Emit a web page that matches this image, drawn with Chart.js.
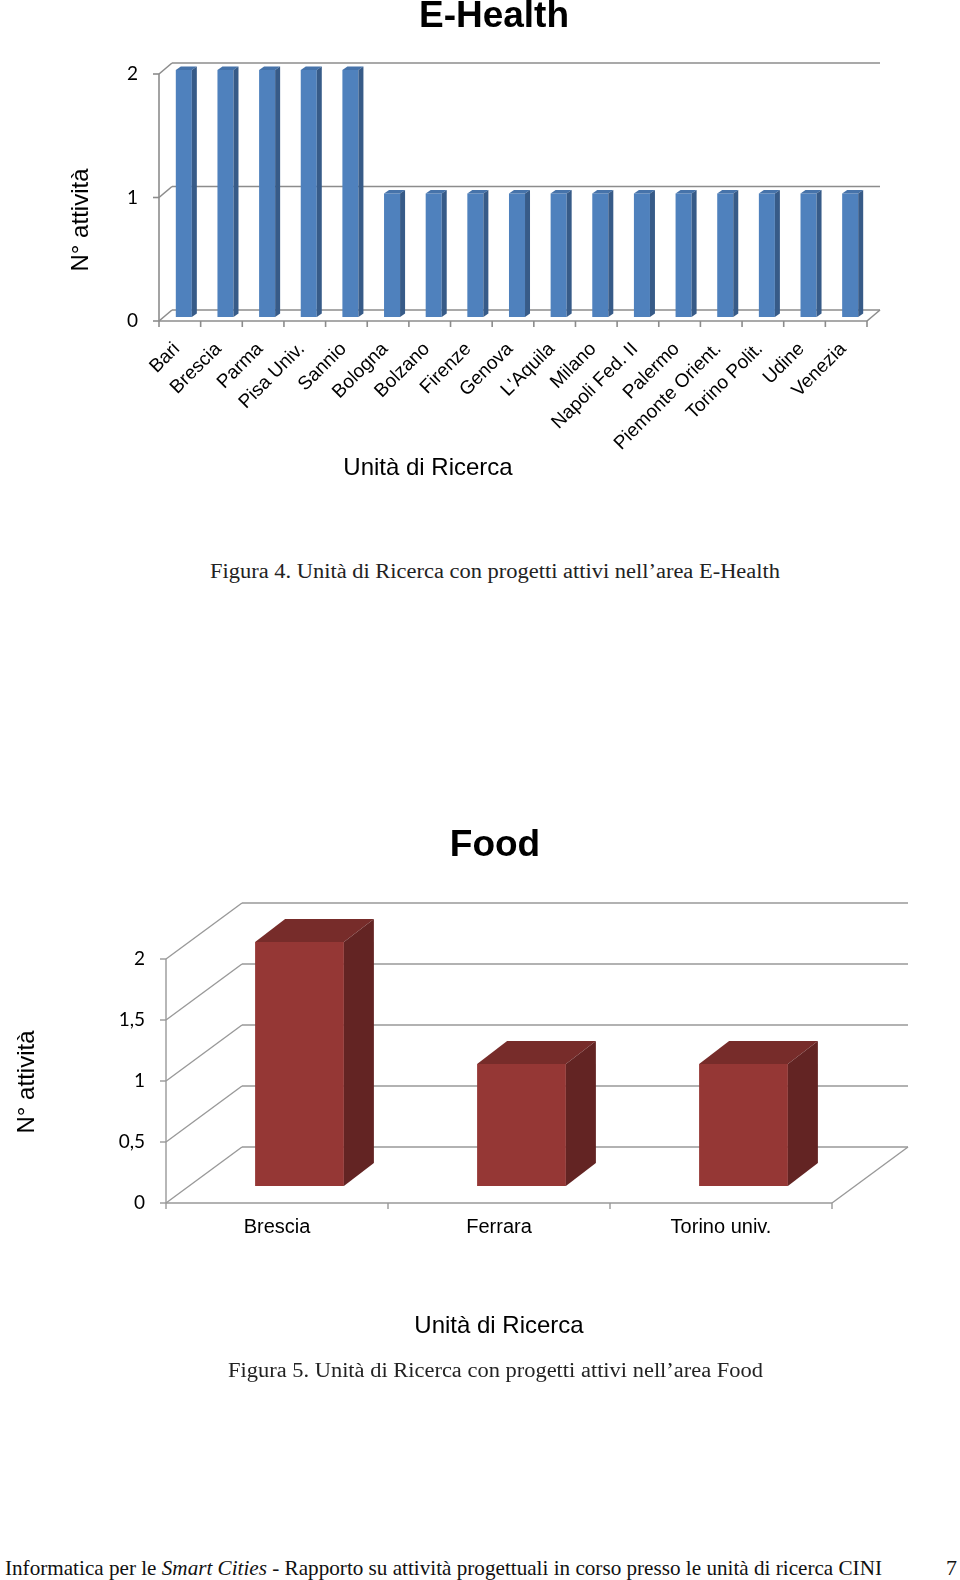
<!DOCTYPE html>
<html>
<head>
<meta charset="utf-8">
<script src="https://cdn.jsdelivr.net/npm/chart.js@4.4.0/dist/chart.umd.min.js"></script>
<style>
  body { margin: 0; width: 960px; height: 1580px; background: #fff; position: relative; overflow: hidden; }
  canvas { position: absolute; left: 0; }
  .txt { position: absolute; white-space: nowrap; font-family: "Liberation Serif", serif; font-size: 20px; line-height: 24px; color: #222; }
</style>
</head>
<body>
<canvas id="ehealth" width="960" height="520" style="top:0"></canvas>
<canvas id="food" width="960" height="580" style="top:780px"></canvas>

<div class="txt" data-w="570" style="left:210px;top:559px">Figura 4. Unità di Ricerca con progetti attivi nell’area E-Health</div>
<div class="txt" data-w="535" style="left:228px;top:1358px">Figura 5. Unità di Ricerca con progetti attivi nell’area Food</div>
<div class="txt" data-w="877" style="left:5px;top:1556px;font-size:21px;color:#111">Informatica per le <i>Smart Cities</i> - Rapporto su attività progettuali in corso presso le unità di ricerca CINI</div>
<div class="txt" style="left:946px;top:1556px;font-size:22px;color:#111">7</div>

<script>
// E-Health
const ehLabels = ['Bari', 'Brescia', 'Parma', 'Pisa Univ.', 'Sannio', 'Bologna', 'Bolzano', 'Firenze', 'Genova',
  "L'Aquila", 'Milano', 'Napoli Fed. II', 'Palermo', 'Piemonte Orient.', 'Torino Polit.', 'Udine', 'Venezia'];
const ehValues = [2, 2, 2, 2, 2, 1, 1, 1, 1, 1, 1, 1, 1, 1, 1, 1, 1];
const ehTicks = [0, 1, 2];
const ehTickLabels = ['0', '1', '2'];

// Food
const foodLabels = ['Brescia', 'Ferrara', 'Torino univ.'];
const foodValues = [2, 1, 1];
const foodTicks = [0, 0.5, 1, 1.5, 2];
const foodTickLabels = ['0', '0,5', '1', '1,5', '2'];

function line(ctx, x1, y1, x2, y2) {
  ctx.beginPath(); ctx.moveTo(x1, y1); ctx.lineTo(x2, y2); ctx.stroke();
}
function poly(ctx, pts) {
  ctx.beginPath();
  pts.forEach((p, i) => i ? ctx.lineTo(p[0], p[1]) : ctx.moveTo(p[0], p[1]));
  ctx.closePath(); ctx.fill();
}

// draws the fake 3d walls, the labels and the bar tops/sides
const box3d = {
  id: 'box3d',
  beforeDatasetsDraw(chart, args, o) {
    const {ctx, chartArea: a, scales: {x, y}} = chart;
    const [wx, wy] = o.wall;
    ctx.save();
    ctx.strokeStyle = o.grid;
    ctx.lineWidth = o.lw;
    o.ticks.forEach(v => {
      const py = y.getPixelForValue(v);
      line(ctx, a.left, py, a.left + wx, py + wy);
      line(ctx, a.left + wx, py + wy, a.right + wx, py + wy);
      line(ctx, a.left - 6, py, a.left, py);
    });
    line(ctx, a.left, y.getPixelForValue(o.ticks[o.ticks.length - 1]), a.left, a.bottom);
    line(ctx, a.left, a.bottom, a.right, a.bottom);
    line(ctx, a.right, a.bottom, a.right + wx, a.bottom + wy);
    const step = x.getPixelForValue(1) - x.getPixelForValue(0);
    for (let i = 0; i <= chart.data.labels.length; i++) {
      const px = a.left + i * step;
      line(ctx, px, a.bottom, px, a.bottom + 6);
    }

    ctx.fillStyle = '#000';
    // y tick labels
    ctx.font = o.tickFont;
    ctx.textAlign = 'right';
    ctx.textBaseline = 'middle';
    o.ticks.forEach((v, i) => ctx.fillText(o.tickLabels[i], a.left - o.tickGap, y.getPixelForValue(v)));

    // category labels
    ctx.font = o.catFont;
    chart.data.labels.forEach((lab, i) => {
      const px = x.getPixelForValue(i);
      if (o.rotate) {
        ctx.save();
        ctx.translate(px + o.catOff[0], a.bottom + o.catOff[1]);
        ctx.rotate(-Math.PI / 4);
        ctx.textAlign = 'right';
        ctx.fillText(lab, 0, 0);
        ctx.restore();
      } else {
        ctx.textAlign = 'center';
        ctx.fillText(lab, px + o.catOff[0], a.bottom + o.catOff[1]);
      }
    });

    // titles
    ctx.textAlign = 'center';
    ctx.font = o.titleFont;
    ctx.fillText(o.title, o.titlePos[0], o.titlePos[1]);
    ctx.font = '24px "Liberation Sans", Arial, sans-serif';
    ctx.fillText('Unità di Ricerca', o.xTitlePos[0], o.xTitlePos[1]);
    ctx.save();
    ctx.translate(o.yTitlePos[0], o.yTitlePos[1]);
    ctx.rotate(-Math.PI / 2);
    ctx.fillText('N° attività', 0, 0);
    ctx.restore();
    ctx.restore();

    // bars sit a little behind the front plane
    ctx.save();
    ctx.translate(o.shift[0], o.shift[1]);
  },
  afterDatasetsDraw(chart, args, o) {
    const ctx = chart.ctx;
    const [dx, dy] = o.depth;
    chart.getDatasetMeta(0).data.forEach(bar => {
      const {x, y, base, width} = bar.getProps(['x', 'y', 'base', 'width'], true);
      const l = x - width / 2, r = x + width / 2;
      ctx.fillStyle = o.topColor;
      poly(ctx, [[l, y], [l + dx, y + dy], [r + dx, y + dy], [r, y]]);
      ctx.fillStyle = o.sideColor;
      poly(ctx, [[r, y], [r + dx, y + dy], [r + dx, base + dy], [r, base]]);
    });
    ctx.restore();
  }
};

function makeChart(id, labels, values, max, pad, barPct, color, o) {
  return new Chart(document.getElementById(id), {
    type: 'bar',
    data: {
      labels: labels,
      datasets: [{
        data: values,
        backgroundColor: color,
        borderWidth: 0,
        categoryPercentage: 1,
        barPercentage: barPct,
        clip: false
      }]
    },
    options: {
      responsive: false,
      animation: false,
      events: [],
      layout: {padding: pad},
      scales: {
        x: {display: false},
        y: {display: false, min: 0, max: max}
      },
      plugins: {legend: {display: false}, tooltip: {enabled: false}, box3d: o}
    },
    plugins: [box3d]
  });
}

makeChart('ehealth', ehLabels, ehValues, 2, {left: 159, right: 93, top: 74, bottom: 199}, 0.385, '#4f81bd', {
  wall: [13, -11], shift: [4, -4], depth: [5, -3.5],
  topColor: '#4673aa', sideColor: '#375b88',
  grid: '#8c8c8c', lw: 1.6,
  ticks: ehTicks, tickLabels: ehTickLabels, tickGap: 21,
  tickFont: '19px Lato, "Open Sans", sans-serif',
  catFont: '19px "Liberation Sans", Arial, sans-serif', rotate: true, catOff: [-3, 25],
  title: 'E-Health', titleFont: 'bold 37px "Liberation Sans", Arial, sans-serif', titlePos: [494, 17],
  xTitlePos: [428, 468], yTitlePos: [81, 220]
});

makeChart('food', foodLabels, foodValues, 2, {left: 166, right: 128, top: 179, bottom: 157}, 0.40, '#953735', {
  wall: [76, -56], shift: [22.5, -17], depth: [30, -23],
  topColor: '#772c2a', sideColor: '#632423',
  grid: '#999999', lw: 1.4,
  ticks: foodTicks, tickLabels: foodTickLabels, tickGap: 21,
  tickFont: '19px Lato, "Open Sans", sans-serif',
  catFont: '20px "Liberation Sans", Arial, sans-serif', rotate: false, catOff: [0, 24],
  title: 'Food', titleFont: 'bold 37px "Liberation Sans", Arial, sans-serif', titlePos: [495, 66],
  xTitlePos: [499, 546], yTitlePos: [27, 302]
});

document.querySelectorAll('[data-w]').forEach(el => {
  const w = +el.dataset.w, m = el.getBoundingClientRect().width;
  el.style.transformOrigin = 'left center';
  el.style.transform = 'scaleX(' + (w / m) + ')';
});
</script>
</body>
</html>
